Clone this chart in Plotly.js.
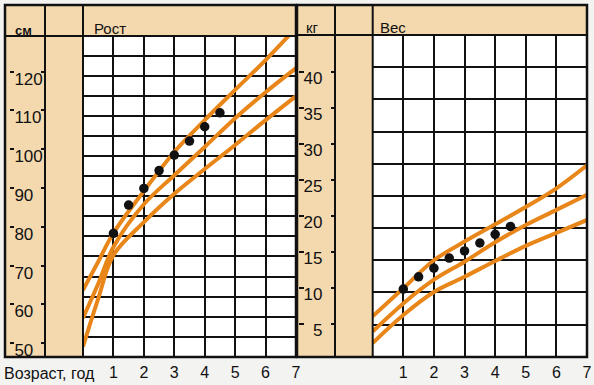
<!DOCTYPE html>
<html>
<head>
<meta charset="utf-8">
<script src="https://cdn.plot.ly/plotly-3.0.1.min.js"></script>
<style>
html,body{margin:0;padding:0;background:#f3f3f1;}
#chart{width:594px;height:385px;}
</style>
</head>
<body>
<div id="chart"></div>
<script>
// ---------- data ----------
const ageCurve = [0, 0.5, 1, 2, 3, 4, 5, 6, 7];
const heightTop = [63.7, 71.0, 78.4, 89.2, 99.3, 107.5, 115.3, 123.0, 131.3];
const heightMid = [56.5, 65.3, 74.8, 85.8, 93.3, 100.6, 108.0, 114.7, 120.9];
const heightLow = [49.1, 61.5, 72.7, 81.2, 88.5, 94.9, 101.1, 107.5, 113.7];

const ageW = [0, 1, 2, 3, 4, 5, 6, 7];
const weightTop = [6.0, 9.9, 13.8, 16.4, 18.8, 21.2, 23.8, 27.0];
const weightMid = [3.9, 7.8, 11.1, 13.6, 16.3, 18.7, 20.8, 22.9];
const weightLow = [2.3, 6.2, 9.4, 11.5, 13.7, 15.8, 17.6, 19.4];

const ageDots = [1, 1.5, 2, 2.5, 3, 3.5, 4, 4.5];
const heightDots = [78.3, 85.6, 89.9, 94.5, 98.5, 102.1, 105.8, 109.4];
const weightDots = [9.8, 11.5, 12.7, 14.1, 15.1, 16.2, 17.4, 18.5];

const ageTicks = [1, 2, 3, 4, 5, 6, 7];
const cmTicks = [50, 60, 70, 80, 90, 100, 110, 120];
const kgTicks = [5, 10, 15, 20, 25, 30, 35, 40];

// ---------- helpers ----------
const W = 594, H = 385;
const px = x => x / W;
const py = y => 1 - y / H;
const ORANGE = '#e9861a';
const INK = '#111111';
const BEIGE = '#f4d9ae';

const cmRange = [46.5, 129.2];
const kgRange = [0.4, 45.1];
const domH = [py(356.7), py(36)];
const domW = [py(356.7), py(35)];

function curve(x, y, xa, ya) {
  return {x: x, y: y, xaxis: xa, yaxis: ya, mode: 'lines', type: 'scatter',
    line: {color: ORANGE, width: 4, shape: 'spline', smoothing: 1}, hoverinfo: 'skip'};
}
function dots(x, y, xa, ya) {
  return {x: x, y: y, xaxis: xa, yaxis: ya, mode: 'markers', type: 'scatter',
    marker: {color: INK, size: 9.5}, hoverinfo: 'skip'};
}
function dummy(xa, ya) {
  return {x: [null], y: [null], xaxis: xa, yaxis: ya, mode: 'markers', type: 'scatter', hoverinfo: 'skip'};
}

const data = [
  curve(ageCurve, heightLow, 'x', 'y'),
  curve(ageCurve, heightMid, 'x', 'y'),
  curve(ageCurve, heightTop, 'x', 'y'),
  dots(ageDots, heightDots, 'x', 'y'),
  dummy('x', 'y2'),
  dummy('x', 'y3'),
  curve(ageW, weightLow, 'x2', 'y4'),
  curve(ageW, weightMid, 'x2', 'y4'),
  curve(ageW, weightTop, 'x2', 'y4'),
  dots(ageDots, weightDots, 'x2', 'y4'),
  dummy('x2', 'y5'),
  dummy('x2', 'y6'),
  dummy('x2', 'y7')
];

const xBase = {range: [0, 7], tickvals: ageTicks, ticktext: ageTicks.map(String),
  showgrid: true, gridcolor: INK, gridwidth: 2, ticks: '', zeroline: false, showline: false,
  tickfont: {size: 16, color: INK}, ticklabelstandoff: 4, fixedrange: true};
const noLab = {showticklabels: false, showgrid: false, zeroline: false, showline: false, fixedrange: true};

function rect(x0, y0, x1, y1, fill, layer) {
  return {type: 'rect', xref: 'paper', yref: 'paper', x0: px(x0), x1: px(x1), y0: py(y1), y1: py(y0),
    fillcolor: fill, line: {width: 0}, layer: layer || 'below'};
}
function frame(x0, y0, x1, y1, w) {
  return {type: 'rect', xref: 'paper', yref: 'paper', x0: px(x0), x1: px(x1), y0: py(y1), y1: py(y0),
    fillcolor: 'rgba(0,0,0,0)', line: {width: w, color: INK}, layer: 'above'};
}
function seg(x0, y0, x1, y1, w) {
  return {type: 'line', xref: 'paper', yref: 'paper', x0: px(x0), x1: px(x1), y0: py(y0), y1: py(y1),
    line: {width: w, color: INK}, layer: 'above'};
}

const shapes = [
  rect(5, 5, 83, 357, BEIGE),
  rect(83, 5, 296, 36, BEIGE),
  rect(297, 5, 372.7, 357, BEIGE),
  rect(372.7, 5, 587, 35, BEIGE),
  frame(5, 5, 296, 357, 2.5),
  seg(45, 5, 45, 357, 2),
  seg(83, 5, 83, 357, 2),
  seg(5, 36, 296, 36, 2),
  frame(297, 5, 587, 357, 2.5),
  seg(335, 5, 335, 357, 2),
  seg(372.7, 5, 372.7, 357, 2),
  seg(297, 35, 587, 35, 2)
];

function ann(text, x, y, size) {
  return {text: text, xref: 'paper', yref: 'paper', x: px(x), y: py(y), xanchor: 'left', yanchor: 'middle',
    showarrow: false, font: {size: size, color: INK}};
}

const layout = {
  width: W, height: H,
  margin: {l: 0, r: 0, t: 0, b: 0},
  paper_bgcolor: '#f3f3f1', plot_bgcolor: '#ffffff',
  showlegend: false,
  font: {family: 'Liberation Sans, Arial, sans-serif', color: INK},
  xaxis: Object.assign({}, xBase, {domain: [px(83), px(296)], anchor: 'y'}),
  yaxis: {domain: domH, range: cmRange, anchor: 'free', position: px(9), side: 'right',
    tickvals: cmTicks, ticks: 'outside', ticklen: 4, tickwidth: 2, tickcolor: INK,
    showgrid: false, zeroline: false, showline: false, tickfont: {size: 17, color: INK},
    ticklabelshift: 7, ticklabelstandoff: -3, fixedrange: true},
  yaxis2: Object.assign({}, noLab, {overlaying: 'y', domain: domH, range: [0, 16], dtick: 1, tick0: 0,
    showgrid: true, gridcolor: INK, gridwidth: 2, ticks: '', anchor: 'x'}),
  yaxis3: Object.assign({}, noLab, {overlaying: 'y', domain: domH, range: cmRange, anchor: 'free',
    position: px(45), side: 'left', tickvals: cmTicks, ticks: 'outside', ticklen: 4, tickwidth: 2, tickcolor: INK}),
  xaxis2: Object.assign({}, xBase, {domain: [px(372.7), px(587)], anchor: 'y4'}),
  yaxis4: {domain: domW, range: kgRange, anchor: 'free', position: px(322.5), side: 'left',
    tickvals: kgTicks, ticks: '', showgrid: false, zeroline: false, showline: false,
    tickfont: {size: 17, color: INK}, ticklabelshift: 6, fixedrange: true},
  yaxis5: Object.assign({}, noLab, {overlaying: 'y4', domain: domW, range: [0, 10], dtick: 1, tick0: 0,
    showgrid: true, gridcolor: INK, gridwidth: 2, ticks: '', anchor: 'x2'}),
  yaxis6: Object.assign({}, noLab, {overlaying: 'y4', domain: domW, range: kgRange, anchor: 'free',
    position: px(297.5), side: 'right', tickvals: kgTicks, ticks: 'outside', ticklen: 5, tickwidth: 2, tickcolor: INK}),
  yaxis7: Object.assign({}, noLab, {overlaying: 'y4', domain: domW, range: kgRange, anchor: 'free',
    position: px(335), side: 'left', tickvals: kgTicks, ticks: 'outside', ticklen: 4, tickwidth: 2, tickcolor: INK}),
  shapes: shapes,
  annotations: [
    ann('<b>см</b>', 13, 30.5, 13),
    ann('Рост', 92, 28.5, 15),
    ann('кг', 303.5, 27.5, 15),
    ann('Вес', 377.5, 27, 15),
    ann('Возраст, год', 1.5, 373.5, 16)
  ]
};

Plotly.newPlot('chart', data, layout, {displayModeBar: false, staticPlot: true});
</script>
</body>
</html>
